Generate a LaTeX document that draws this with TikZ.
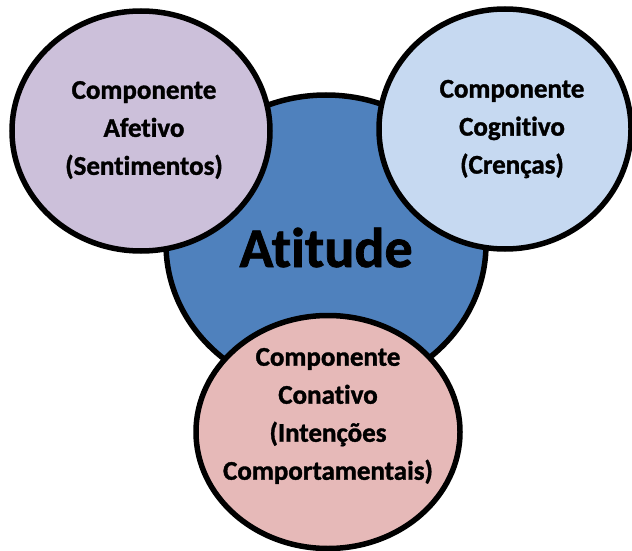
\documentclass[tikz,border=0pt]{standalone}
\usepackage{fontspec}
\setmainfont{Carlito}[Ligatures=NoCommon, BoldFeatures={FakeBold=1.3}]
\usetikzlibrary{shapes.geometric}
\begin{document}
\begin{tikzpicture}[x=1pt,y=-1pt,
  blob/.style={ellipse, draw=black, line width=5.5pt, inner sep=0pt},
  label/.style={align=center, font=\bfseries\fontsize{27}{38}\selectfont, text=black},
  title/.style={font=\bfseries\fontsize{56}{60}\selectfont, text=black}]
  \useasboundingbox (0,0) rectangle (632,551);
  \definecolor{atblue}{HTML}{4F81BD}
  \definecolor{afetivo}{HTML}{CCC0DA}
  \definecolor{cognitivo}{HTML}{C6D9F1}
  \definecolor{conativo}{HTML}{E6B9B8}
  % central attitude circle, drawn first so the components overlap it
  \node[blob, fill=atblue, minimum width=320pt, minimum height=298pt] (atitude) at (326,244) {};
  \node[blob, fill=afetivo, minimum width=258pt, minimum height=240pt] (afet) at (141,131) {};
  \node[blob, fill=cognitivo, minimum width=252pt, minimum height=240pt] (cogn) at (505,129) {};
  \node[blob, fill=conativo, minimum width=264pt, minimum height=233pt] (conat) at (328,432) {};
  % texts
  \node[title, anchor=base] (tAt) at (326,267) {Atitude};
  \node[label] (tAf) at (144,130) {Componente\\Afetivo\\(Sentimentos)};
  \node[label] (tCo) at (512,129) {Componente\\Cognitivo\\(Crenças)};
  \node[label] (tCn) at (328,416) {Componente\\Conativo\\(Intenções\\Comportamentais)};
\end{tikzpicture}
\end{document}
